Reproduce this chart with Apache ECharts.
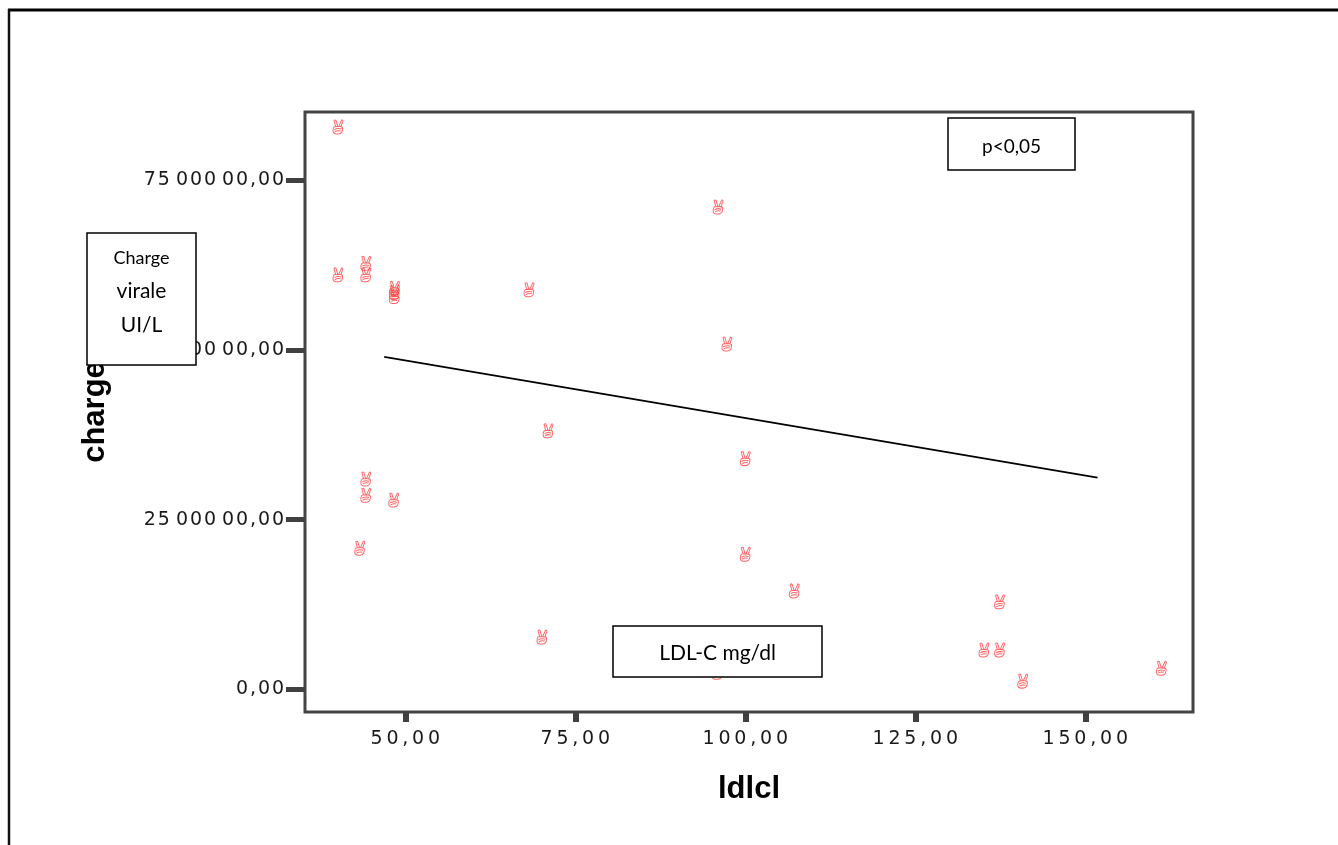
<!DOCTYPE html>
<html>
<head>
<meta charset="utf-8">
<script src="https://cdn.jsdelivr.net/npm/echarts@6.0.0/dist/echarts.min.js"></script>
<style>
html, body { margin: 0; padding: 0; background: #fff; }
#chart { width: 1338px; height: 845px; }
</style>
</head>
<body>
<div id="chart"></div>
<script>
// ldlcl (mg/dl) vs charge virale (UI/L)
var ldlValues = [40.1, 40.1, 44.2, 44.2, 48.4, 48.4, 48.4, 68.2, 96.0, 97.3, 71.0, 100.0, 44.2, 44.2, 48.3, 43.3, 100.0, 107.2, 137.4, 70.1, 135.1, 137.4, 161.2, 140.8, 95.9];
var chargeValues = [8290000, 6110000, 6280000, 6110000, 5910000, 5850000, 5790000, 5890000, 7110000, 5090000, 3810000, 3400000, 3100000, 2860000, 2790000, 2080000, 1990000, 1450000, 1290000, 770000, 580000, 580000, 310000, 120000, 250000];

// fit line ends
var fitX = [46.9, 151.8];
var fitY = [4900000, 3120000];

var xTicks = [50, 75, 100, 125, 150];
var xTickLabels = ['50,00', '75,00', '100,00', '125,00', '150,00'];
var yTicks = [0, 2500000, 5000000, 7500000];
var yTickLabels = ['0,00', '25 000 00,00', '50 000 00,00', '75 000 00,00'];

// victory-hand marker outline
var handPath = 'path://M4,7.5 L2.2,1.2 Q3.2,0.2 4.2,1 L6,6.8 M7,6.8 L10,0.8 Q11.3,0.6 11.4,1.8 L9,7.6 ' +
    'M1.4,9 Q1.6,7 3.8,6.9 L9.4,7 Q11.4,7.4 11,9.6 L10.4,12 Q9.4,14 6.6,14 L4.2,14 Q1,13.6 1.2,10.8 Z ' +
    'M2.6,10 Q6,8.2 9.6,9.4 M3,12 Q6,10.4 9,11.2';

function spaced(s, gap) {
    var out = '';
    for (var i = 0; i < s.length; i++) {
        out += s[i];
        if (i < s.length - 1 && s[i] !== ' ' && s[i + 1] !== ' ') out += gap;
    }
    return out;
}

var points = ldlValues.map(function (v, i) { return [v, chargeValues[i]]; });
var fitLine = fitX.map(function (v, i) { return [v, fitY[i]]; });

var myChart = echarts.init(document.getElementById('chart'));
myChart.setOption({
    animation: false,
    backgroundColor: '#fff',
    grid: {
        left: 305, top: 112, width: 888, height: 600,
        show: true, borderColor: '#444', borderWidth: 3, backgroundColor: '#fff'
    },
    xAxis: {
        type: 'value',
        min: 35.25, max: 165.84,
        name: 'ldlcl',
        nameLocation: 'middle',
        nameGap: 62,
        nameTextStyle: { fontFamily: 'Liberation Sans', fontWeight: 'bold', fontSize: 31, color: '#000' },
        splitLine: { show: false },
        axisLine: { show: false, onZero: false },
        axisTick: { show: true, length: 10, inside: false, customValues: xTicks, lineStyle: { color: '#404040', width: 6 } },
        axisLabel: {
            customValues: xTicks, margin: 18,
            fontFamily: 'DejaVu Sans', fontSize: 19, color: '#1a1a1a',
            formatter: function (v) { return spaced(xTickLabels[xTicks.indexOf(v)], '\u2009'); }
        }
    },
    yAxis: {
        type: 'value',
        min: -335000, max: 8510000,
        name: 'charge',
        nameLocation: 'middle',
        nameGap: 194,
        nameRotate: 90,
        nameTextStyle: { fontFamily: 'Liberation Sans', fontWeight: 'bold', fontSize: 31, color: '#000' },
        splitLine: { show: false },
        axisLine: { show: false, onZero: false },
        axisTick: { show: true, length: 19, inside: false, customValues: yTicks, lineStyle: { color: '#404040', width: 5 } },
        axisLabel: {
            customValues: yTicks, margin: 21,
            fontFamily: 'DejaVu Sans', fontSize: 19, color: '#1a1a1a',
            formatter: function (v) { return spaced(yTickLabels[yTicks.indexOf(v)], '\u200A'); }
        }
    },
    series: [{
        type: 'scatter',
        data: points,
        symbol: handPath,
        symbolSize: [13, 14],
        symbolKeepAspect: true,
        itemStyle: { color: 'rgba(255,255,255,0)', borderColor: '#ff4040', borderWidth: 1 },
        emphasis: { disabled: true },
        z: 3
    }, {
        type: 'line',
        data: fitLine,
        symbol: 'none',
        lineStyle: { color: '#000', width: 1.6 },
        z: 2
    }],
    graphic: [
        { type: 'line', z: 100, shape: { x1: 8, y1: 10, x2: 1338, y2: 10 }, style: { stroke: '#000', lineWidth: 3 } },
        { type: 'line', z: 100, shape: { x1: 9, y1: 9, x2: 9, y2: 845 }, style: { stroke: '#111', lineWidth: 2.5 } },
        { type: 'rect', z: 100, shape: { x: 87, y: 233, width: 109, height: 132 }, style: { fill: '#fff', stroke: '#000', lineWidth: 1.5 } },
        { type: 'text', z: 101, style: { x: 141.5, y: 258, text: 'Charge', fontFamily: 'Lato', fontSize: 18, fill: '#000', textAlign: 'center', textVerticalAlign: 'middle' } },
        { type: 'text', z: 101, style: { x: 141.5, y: 291, text: 'virale', fontFamily: 'Lato', fontSize: 21, fill: '#000', textAlign: 'center', textVerticalAlign: 'middle' } },
        { type: 'text', z: 101, style: { x: 141.5, y: 325, text: 'UI/L', fontFamily: 'Lato', fontSize: 21, fill: '#000', textAlign: 'center', textVerticalAlign: 'middle' } },
        { type: 'rect', z: 100, shape: { x: 948, y: 118, width: 127, height: 52 }, style: { fill: '#fff', stroke: '#000', lineWidth: 1.5 } },
        { type: 'text', z: 101, style: { x: 1011.5, y: 147, text: 'p<0,05', fontFamily: 'Lato', fontSize: 19, fill: '#000', textAlign: 'center', textVerticalAlign: 'middle' } },
        { type: 'rect', z: 100, shape: { x: 613, y: 626, width: 209, height: 51 }, style: { fill: '#fff', stroke: '#000', lineWidth: 1.5 } },
        { type: 'text', z: 101, style: { x: 717.5, y: 653, text: 'LDL-C mg/dl', fontFamily: 'Lato', fontSize: 21, fill: '#000', textAlign: 'center', textVerticalAlign: 'middle' } }
    ]
});
</script>
</body>
</html>
